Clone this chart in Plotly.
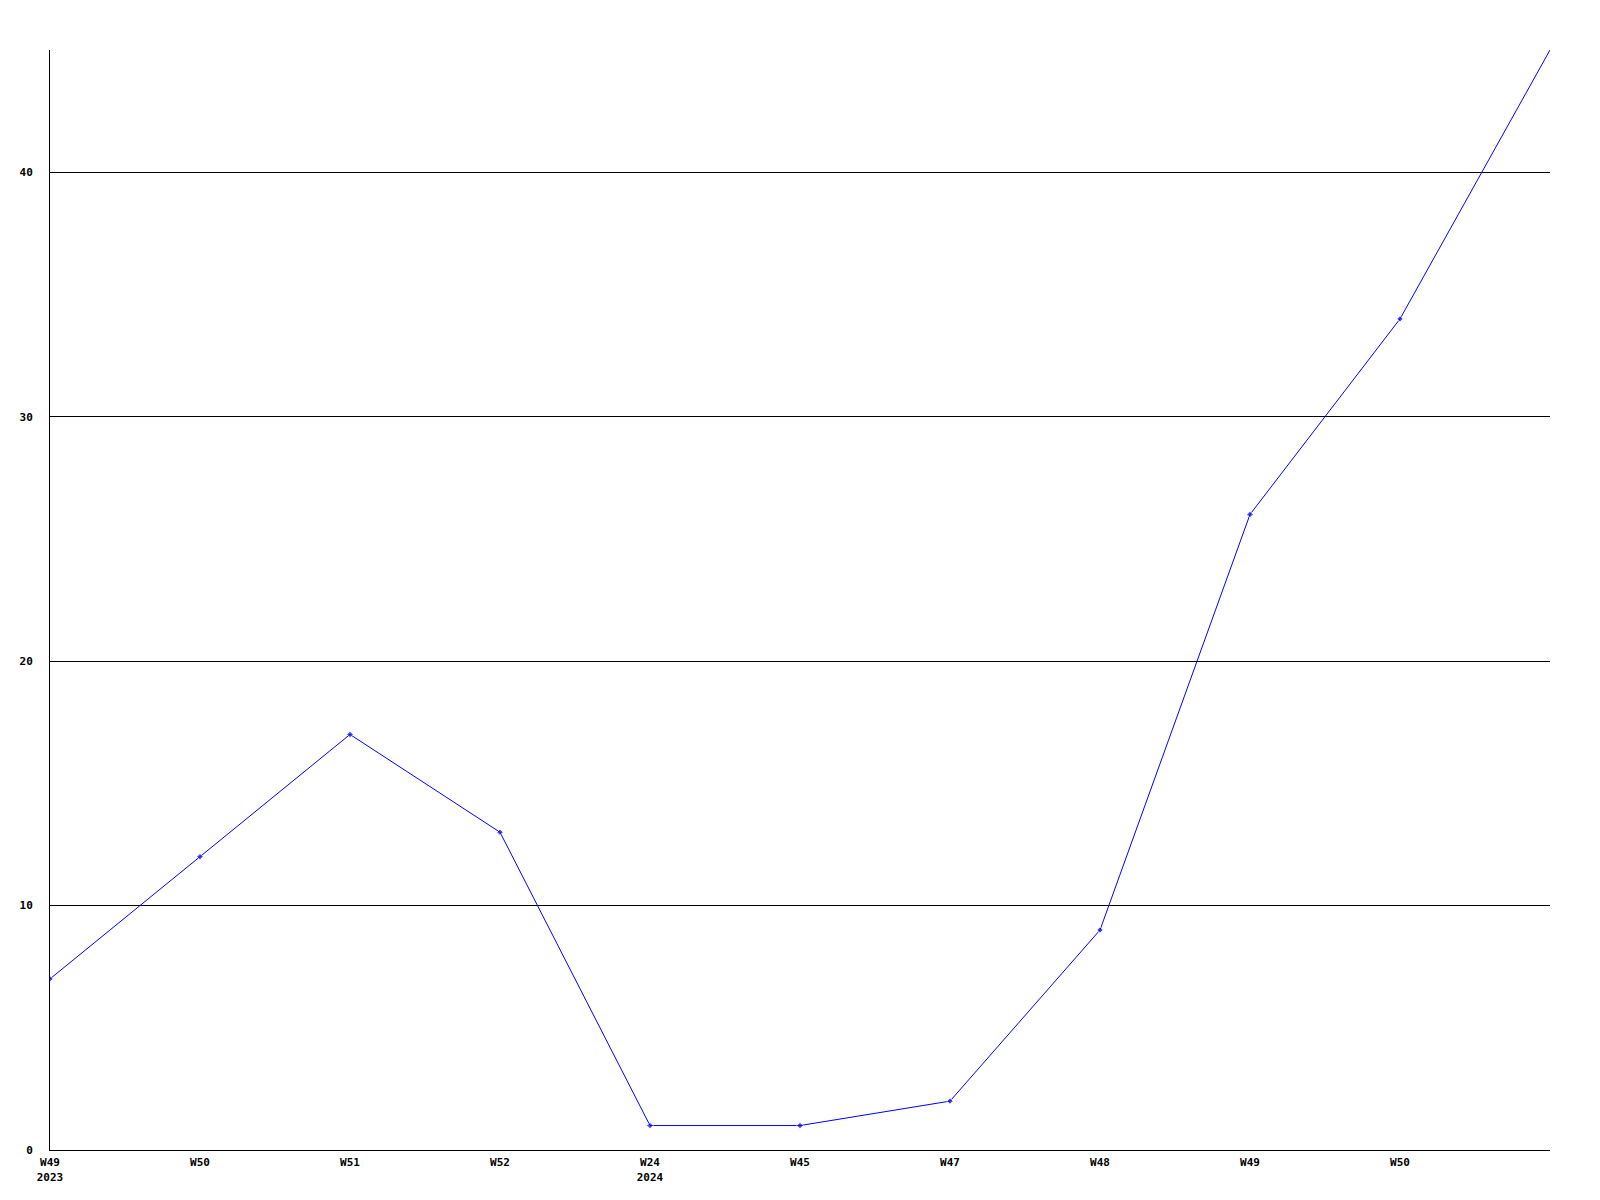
import plotly.graph_objects as go

week_labels = ["W49<br>2023", "W50", "W51", "W52", "W24<br>2024", "W45", "W47", "W48", "W49", "W50", ""]
values = [7, 12, 17, 13, 1, 1, 2, 9, 26, 34, 45]
y_ticks = [0, 10, 20, 30, 40]

x_idx = list(range(len(values)))
marker_sizes = [5] * (len(values) - 1) + [0]

fig = go.Figure()
fig.add_trace(go.Scatter(
    x=x_idx, y=values, mode="lines+markers",
    line=dict(color="#0000ff", width=1),
    marker=dict(color="#0000ff", size=marker_sizes, symbol="diamond"),
    cliponaxis=True,
    showlegend=False,
))

tickfont = dict(family="DejaVu Sans Mono", size=11, color="black", weight="bold")

fig.update_layout(
    width=1584, height=1184,
    margin=dict(l=42, r=42, t=42, b=42, autoexpand=False),
    paper_bgcolor="white", plot_bgcolor="white",
    font=dict(family="DejaVu Sans Mono", size=11, color="black"),
    xaxis=dict(
        range=[0, 10], tickmode="array", tickvals=x_idx[:-1], ticktext=week_labels[:-1],
        showgrid=False, zeroline=False, showline=True, linecolor="black", linewidth=1,
        ticks="", tickfont=tickfont, ticklabelstandoff=2,
    ),
    yaxis=dict(
        range=[0, 45], tickmode="array", tickvals=y_ticks,
        showgrid=True, gridcolor="black", gridwidth=1, zeroline=False,
        showline=True, linecolor="black", linewidth=1, ticks="",
        ticklabelstandoff=14, tickfont=tickfont,
    ),
)

fig.write_html("out.html")
